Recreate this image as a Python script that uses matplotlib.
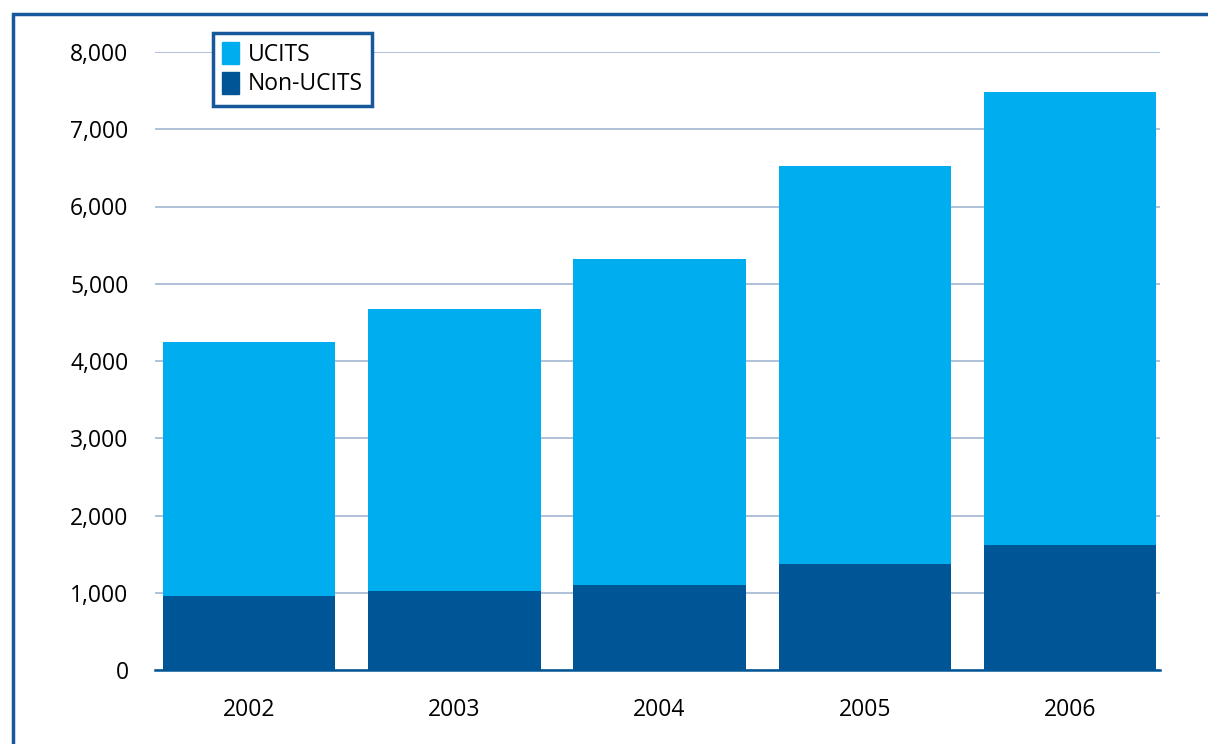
import matplotlib
matplotlib.use('Agg')
import matplotlib.pyplot as plt
import matplotlib.patches as mpatches
import numpy as np

plt.rcParams['font.family'] = ['Open Sans', 'DejaVu Sans']

UCITS_C = '#00AEEF'
NON_C = '#005596'
FRAME = '#16589A'
GRID = '#A9BCD8'

# ── data ──────────────────────────────────────────────
years = ['2002', '2003', '2004', '2005', '2006']
non_ucits = [960, 1025, 1100, 1370, 1620]
ucits = [3285, 3650, 4220, 5155, 5860]
yticks = [0, 1000, 2000, 3000, 4000, 5000, 6000, 7000, 8000]

W, H = 1208, 744
fig = plt.figure(figsize=(W / 100, H / 100), dpi=100, facecolor='white')
ax = fig.add_axes([155 / W, 1 - 670 / H, (1160 - 155) / W, (670 - 52) / H])

x = np.arange(len(years))
ax.bar(x, non_ucits, width=0.84, color=NON_C, zorder=3, label='Non-UCITS')
ax.bar(x, ucits, width=0.84, bottom=non_ucits, color=UCITS_C, zorder=3, label='UCITS')

ax.set_xlim(-0.46, 4.44)
ax.set_ylim(0, 8000)
ax.set_yticks(yticks)
ax.set_yticklabels([f'{v:,}' for v in yticks], fontsize=16.5)
ax.set_xticks(x)
ax.set_xticklabels(years, fontsize=16.5)
ax.tick_params(axis='y', length=0, pad=19)
ax.tick_params(axis='x', length=0, pad=20)
ax.yaxis.grid(True, color=GRID, lw=1.3, zorder=0)
ax.set_axisbelow(True)
for s in ['top', 'right', 'left']:
    ax.spines[s].set_visible(False)
ax.spines['bottom'].set_color(NON_C)
ax.spines['bottom'].set_linewidth(1.8)
ax.spines['bottom'].set_zorder(4)

handles = [mpatches.Patch(color=UCITS_C, label='UCITS'),
           mpatches.Patch(color=NON_C, label='Non-UCITS')]
leg = fig.legend(handles=handles, loc='upper left',
                 bbox_to_anchor=(213 / W, 1 - 33 / H), fontsize=16.5,
                 frameon=True, fancybox=False, handlelength=0.75, handleheight=1.1,
                 handletextpad=0.35, labelspacing=0.2, borderpad=0.4,
                 borderaxespad=0)
leg.get_frame().set_edgecolor(FRAME)
leg.get_frame().set_linewidth(2.5)
leg.get_frame().set_alpha(1)

# outer frame (left + top visible)
fig.add_artist(mpatches.Rectangle((13 / W, -0.1), 1.2, 1 - 14 / H + 0.1,
                                  transform=fig.transFigure, fill=False,
                                  edgecolor=FRAME, lw=2.5))

fig.savefig('out.png', dpi=100, facecolor='white')
